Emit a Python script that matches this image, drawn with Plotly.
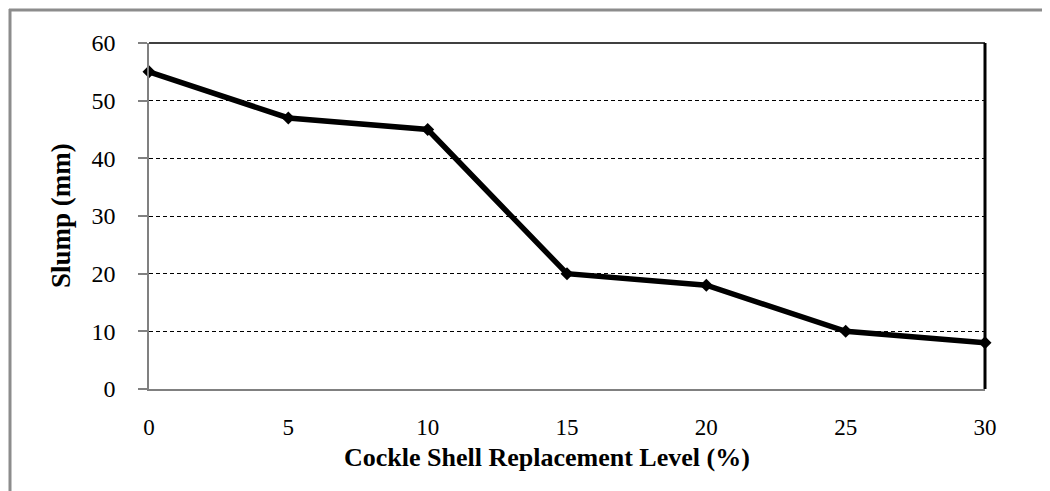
import plotly.graph_objects as go

replacement_level = [0, 5, 10, 15, 20, 25, 30]
slump_mm = [55, 47, 45, 20, 18, 10, 8]
y_ticks = [0, 10, 20, 30, 40, 50, 60]
x_ticks = [0, 5, 10, 15, 20, 25, 30]

# page has an 8px body margin; work in page pixel coordinates and offset
OFF = 8
W, H = 1050 - OFF, 491 - OFF
L, R, T, B = 149 - OFF, 985 - OFF, 43 - OFF, 389 - OFF
pw, ph = R - L, B - T

def px(x):
    return (x - OFF - L) / pw

def py(y):
    return (B - (y - OFF)) / ph

fig = go.Figure()
fig.add_trace(go.Scatter(
    x=replacement_level, y=slump_mm, mode="lines+markers",
    line=dict(color="black", width=5.5),
    marker=dict(symbol="diamond", size=10, color="black"),
    cliponaxis=False, showlegend=False))

font = "Liberation Serif, Times New Roman, serif"
fig.update_layout(
    width=W, height=H,
    margin=dict(l=L, r=W - R, t=T, b=H - B),
    paper_bgcolor="white", plot_bgcolor="white",
    font=dict(family=font, color="black", size=25),
    xaxis=dict(range=[0, 30], tickvals=x_ticks, showgrid=False, zeroline=False,
               showline=True, linecolor="#808080", linewidth=1.5,
               ticks="", ticklabelstandoff=17, tickfont=dict(size=23)),
    yaxis=dict(range=[0, 60], tickvals=y_ticks, showgrid=True, gridcolor="black",
               griddash="4px,3px", gridwidth=1.2, zeroline=False,
               showline=True, linecolor="#808080", linewidth=1.5,
               ticks="outside", ticklen=9, tickcolor="#808080", tickwidth=1.5,
               ticklabelstandoff=18, tickfont=dict(size=24)),
    shapes=[
        dict(type="line", xref="paper", yref="paper", x0=0, x1=1, y0=1, y1=1,
             line=dict(color="black", width=1.5)),
        dict(type="line", xref="paper", yref="paper", x0=1, x1=1, y0=0, y1=1,
             line=dict(color="black", width=3)),
        dict(type="line", xref="paper", yref="paper", x0=px(9), x1=px(1060),
             y0=py(10), y1=py(10), line=dict(color="#8c8c8c", width=3)),
        dict(type="line", xref="paper", yref="paper", x0=px(10), x1=px(10),
             y0=py(9), y1=py(500), line=dict(color="#8c8c8c", width=3)),
    ],
    annotations=[
        dict(text="<b>Cockle Shell Replacement Level (%)</b>", xref="paper", yref="paper",
             x=px(547), y=py(457), showarrow=False, font=dict(size=26),
             xanchor="center", yanchor="middle"),
        dict(text="<b>Slump (mm)</b>", xref="paper", yref="paper",
             x=px(61), y=py(216), showarrow=False, font=dict(size=27), textangle=-90,
             xanchor="center", yanchor="middle"),
    ],
)
fig.write_html("out.html")
